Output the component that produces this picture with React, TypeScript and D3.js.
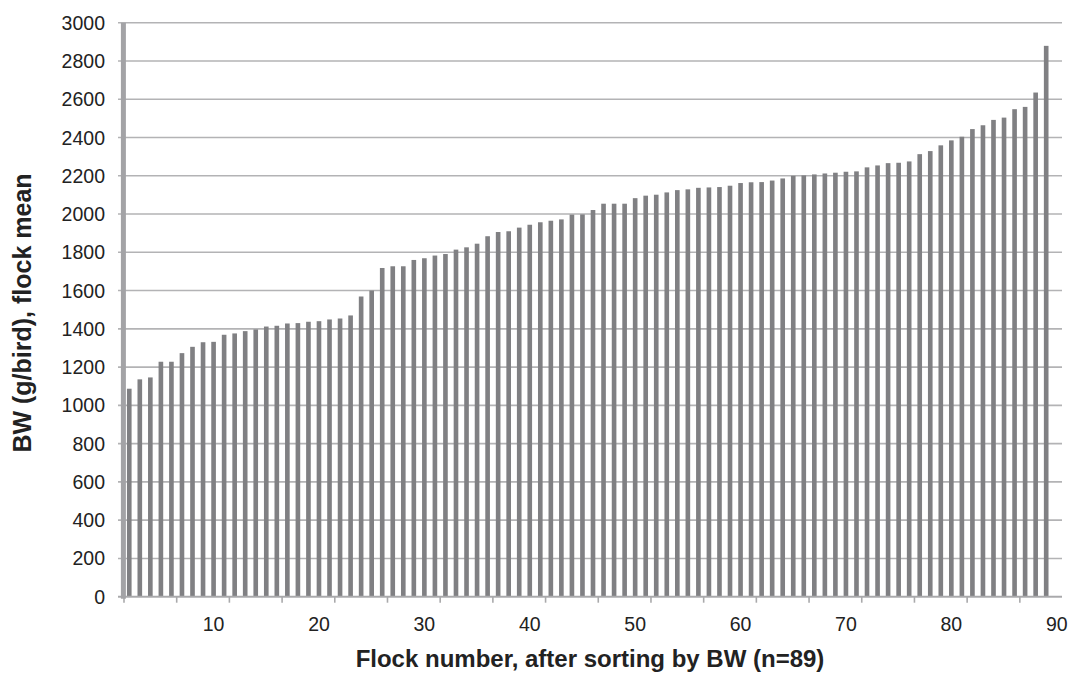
import React from "react";
import * as d3 from "d3";

// ---- data ----
const flockCount = 89; // categories on the x axis (n=89)
const flockNumbers: number[] = d3.range(1, flockCount + 1);
// flock mean body weight (g/bird), sorted ascending
const bodyWeights: number[] = [
  1087, 1136, 1146, 1228, 1228, 1273, 1306, 1330, 1332, 1369,
  1376, 1388, 1397, 1412, 1416, 1428, 1430, 1437, 1440, 1449,
  1454, 1470, 1569, 1600, 1718, 1727, 1727, 1760, 1769, 1783,
  1791, 1814, 1826, 1845, 1884, 1906, 1910, 1929, 1944, 1957,
  1965, 1972, 1997, 1998, 2021, 2054, 2054, 2054, 2083, 2096,
  2101, 2113, 2125, 2129, 2137, 2139, 2141, 2148, 2162, 2166,
  2167, 2175, 2186, 2200, 2202, 2207, 2212, 2216, 2221, 2223,
  2244, 2254, 2266, 2268, 2275, 2313, 2329, 2359, 2385, 2404,
  2444, 2464, 2492, 2504, 2548, 2560, 2635, 2879,
];
const yTicks: number[] = d3.range(0, 3001, 200);
const xLabels: number[] = [10, 20, 30, 40, 50, 60, 70, 80, 90];
const xTickEvery = 5;

const yTitle = "BW (g/bird), flock mean";
const xTitle = "Flock number, after sorting by BW (n=89)";

const W = 1071;
const H = 673;
const left = 124;
const right = 1062;
const top = 22.7;
const bottom = 596.7;

export default function App() {
  const x = d3
    .scaleBand<number>()
    .domain(flockNumbers)
    .range([left, right])
    .paddingInner(0.56)
    .paddingOuter(0.28);
  const y = d3.scaleLinear().domain([0, 3000]).range([bottom, top]);
  const step = x.step();
  const bw = x.bandwidth();
  const center = (c: number) => (x(c) as number) + bw / 2;
  const leftEdge = (c: number) => center(c) - step / 2;

  const tickCats = flockNumbers.filter((c) => (c - 1) % xTickEvery === 0);

  const font = "'Liberation Sans', Arial, sans-serif";
  return (
    <svg
      width={W}
      height={H}
      style={{ position: "absolute", left: 0, top: 0, background: "#fff" }}
      fontFamily={font}
    >
      {/* gridlines */}
      {yTicks.map((t) => (
        <line
          key={"g" + t}
          x1={left - 6}
          x2={right}
          y1={y(t)}
          y2={y(t)}
          stroke="#b3b3b5"
          strokeWidth={1.6}
        />
      ))}
      {/* y tick labels */}
      {yTicks.map((t) => (
        <text
          key={"yl" + t}
          x={105}
          y={y(t)}
          dy="0.36em"
          textAnchor="end"
          fontSize={19.5}
          fill="#222"
        >
          {t}
        </text>
      ))}
      {/* bars */}
      {bodyWeights.map((v, i) => (
        <rect
          key={"b" + i}
          x={x(flockNumbers[i]) as number}
          y={y(v)}
          width={bw}
          height={y(0) - y(v)}
          fill="#808083"
        />
      ))}
      {/* x axis */}
      <line x1={left - 6} x2={right} y1={y(0)} y2={y(0)} stroke="#a9a9ab" strokeWidth={1.8} />
      {tickCats.map((c) => (
        <line
          key={"xt" + c}
          x1={leftEdge(c)}
          x2={leftEdge(c)}
          y1={y(0)}
          y2={y(0) + 6}
          stroke="#a9a9ab"
          strokeWidth={1.6}
        />
      ))}
      {xLabels.map((l) => (
        <text
          key={"xl" + l}
          x={center(l - 1)}
          y={631}
          textAnchor="middle"
          fontSize={19.5}
          fill="#222"
        >
          {l}
        </text>
      ))}
      {/* y axis line (thick) */}
      <line
        x1={left - 0.6}
        x2={left - 0.6}
        y1={y(3000)}
        y2={y(0) + 2}
        stroke="#a3a3a6"
        strokeWidth={5}
      />
      {/* titles */}
      <text
        transform={`translate(31,313) rotate(-90)`}
        textAnchor="middle"
        fontSize={25}
        fontWeight="bold"
        fill="#222"
      >
        {yTitle}
      </text>
      <text x={590} y={667} textAnchor="middle" fontSize={24} fontWeight="bold" fill="#222">
        {xTitle}
      </text>
    </svg>
  );
}
